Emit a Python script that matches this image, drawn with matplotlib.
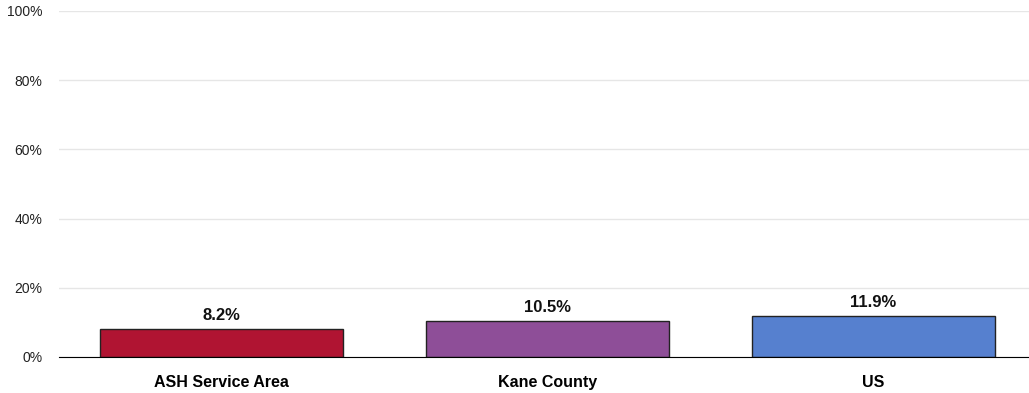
import matplotlib.pyplot as plt
from matplotlib.ticker import PercentFormatter

categories = ["ASH Service Area", "Kane County", "US"]
values = [8.2, 10.5, 11.9]
colors = ["#B01432", "#8E4E98", "#5680CF"]

plt.rcParams['font.family'] = ['Liberation Sans', 'DejaVu Sans']

fig = plt.figure(figsize=(10.29, 3.93), dpi=100)
ax = fig.add_axes([59 / 1029, 1 - 357 / 393, 970 / 1029, 346 / 393])

x = list(range(len(categories)))
bars = ax.bar(x, values, width=0.746, color=colors, edgecolor="#222222", linewidth=1, zorder=3)

for xi, v in zip(x, values):
    ax.text(xi, v + 1.6, f"{v}%", ha="center", va="bottom", fontsize=12, fontweight="bold", color="#111111")

ax.set_ylim(0, 100)
ax.set_xlim(-0.5, 2.478)
ax.set_yticks([0, 20, 40, 60, 80, 100])
ax.yaxis.set_major_formatter(PercentFormatter(decimals=0))
ax.set_xticks(x)
ax.set_xticklabels(categories, fontsize=11.5, fontweight="bold")
ax.tick_params(axis="y", length=0, labelsize=10, pad=12, labelcolor="#222222")
ax.tick_params(axis="x", length=0, pad=13)
ax.grid(axis="y", color="#E6E6E6", linewidth=1, zorder=0)
for s in ["top", "right", "left"]:
    ax.spines[s].set_visible(False)
ax.spines["bottom"].set_color("#000000")
ax.spines["bottom"].set_zorder(4)

fig.savefig("out.png", dpi=100)
